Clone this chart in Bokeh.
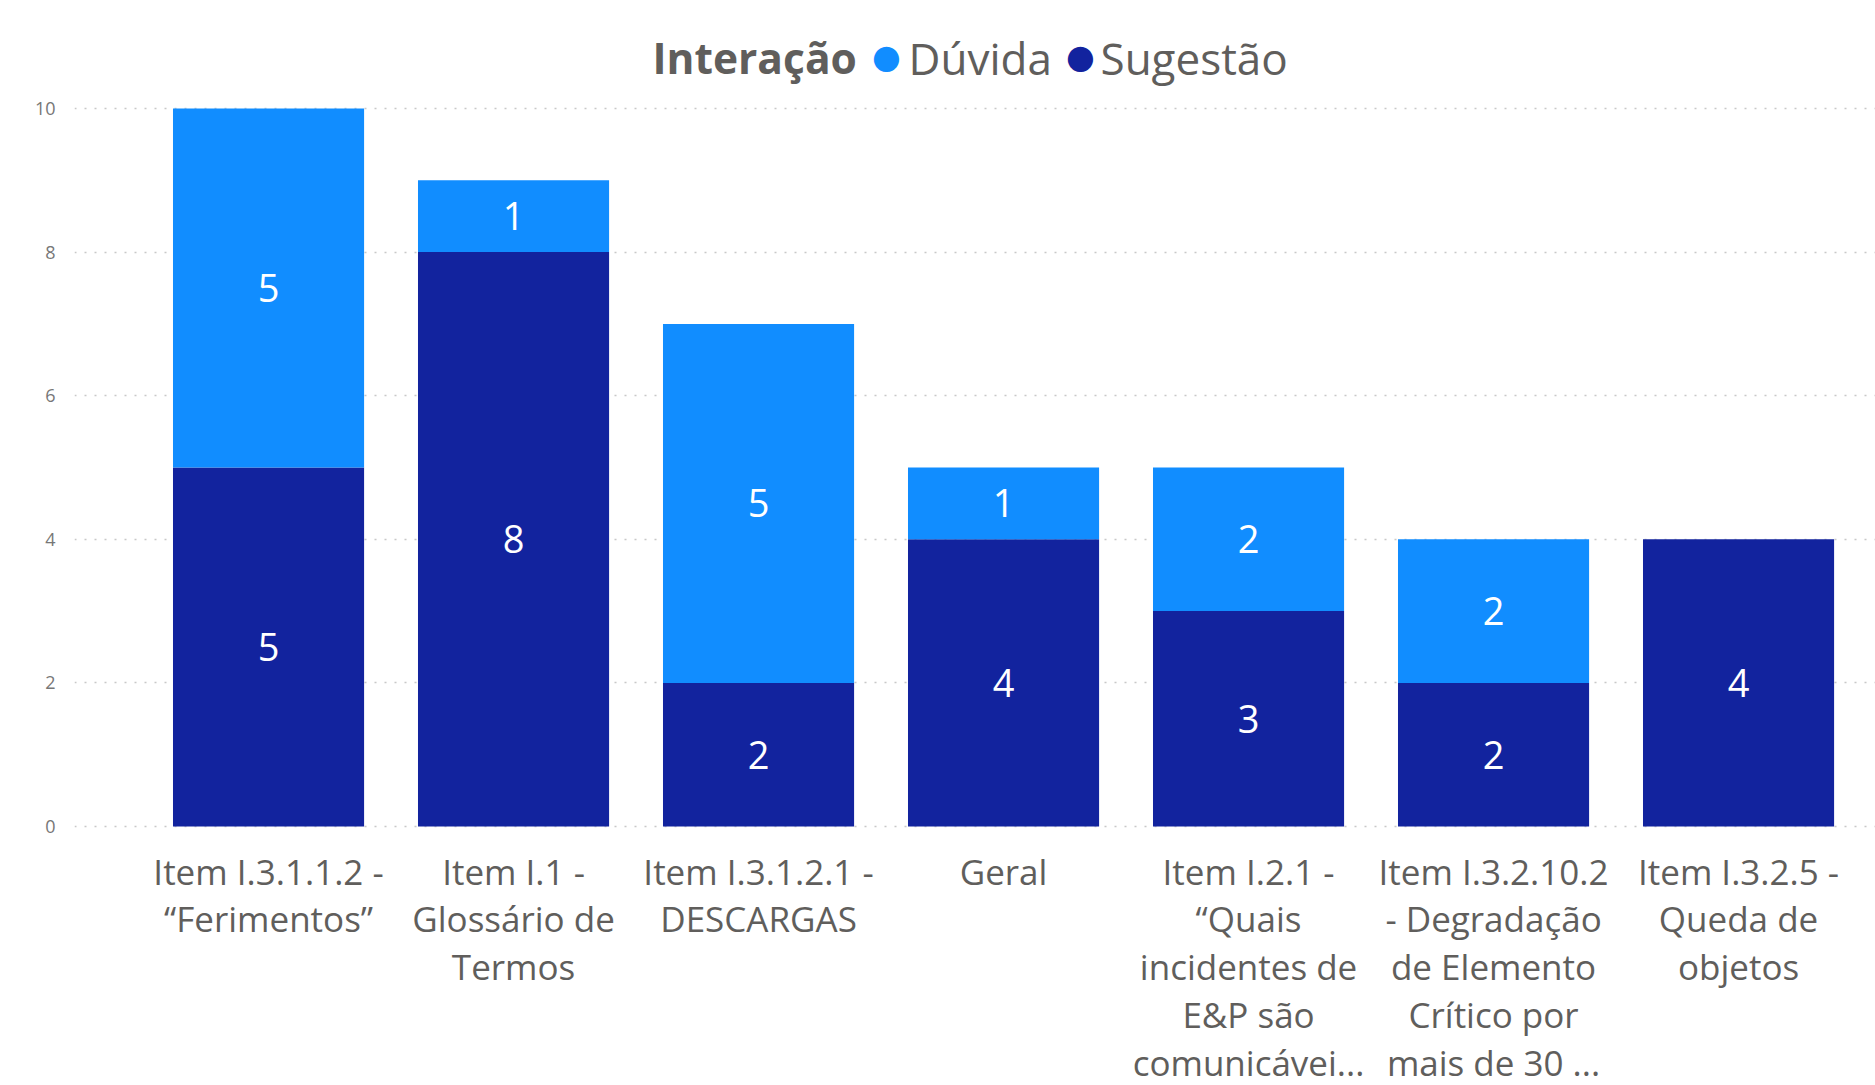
from bokeh.plotting import figure
from bokeh.models import ColumnDataSource, Range1d, FixedTicker, Label
from bokeh.core.properties import value
from bokeh.embed import file_html
from bokeh.resources import INLINE

categories = [
    "Item I.3.1.1.2 -\n“Ferimentos”",
    "Item I.1 -\nGlossário de\nTermos",
    "Item I.3.1.2.1 -\nDESCARGAS",
    "Geral",
    "Item I.2.1 -\n“Quais\nincidentes de\nE&P são\ncomunicávei...",
    "Item I.3.2.10.2\n- Degradação\nde Elemento\nCrítico por\nmais de 30 ...",
    "Item I.3.2.5 -\nQueda de\nobjetos",
]
sugestao = [5, 8, 2, 4, 3, 2, 4]
duvida = [5, 1, 5, 1, 2, 2, 0]
series = ["Sugestão", "Dúvida"]
colors = ["#12239E", "#118DFF"]
y_ticks = [0, 2, 4, 6, 8, 10]
legend_title = "Interação"

FONT = "Open Sans"
GREY = "#605E5C"

xs = list(range(len(categories)))
source = ColumnDataSource(dict(x=xs, Sugestão=sugestao, Dúvida=duvida))

W, H = 1875, 1085
PX_PER_UNIT = 71.8          # vertical scale: 10 units -> 718 px
ZERO_Y = 826                # pixel row of the value 0
p = figure(width=W, height=H, output_backend="svg", toolbar_location=None,
           x_range=Range1d(-0.792, 6.559),
           y_range=Range1d(-(H - ZERO_Y) / PX_PER_UNIT, ZERO_Y / PX_PER_UNIT),
           min_border_left=74, min_border_right=0, min_border_top=0,
           min_border_bottom=0, background_fill_color="white",
           border_fill_color="white", outline_line_color=None)

p.vbar_stack(series, x="x", width=0.78, source=source, color=colors, line_color=None)

# value labels inside segments
lab_x, lab_y, lab_t = [], [], []
for i in xs:
    if sugestao[i] > 0:
        lab_x.append(i); lab_y.append(sugestao[i] / 2); lab_t.append(str(sugestao[i]))
    if duvida[i] > 0:
        lab_x.append(i); lab_y.append(sugestao[i] + duvida[i] / 2); lab_t.append(str(duvida[i]))
p.text(x=lab_x, y=lab_y, text=lab_t, text_color="white", text_font=value(FONT),
       text_font_size="38px", text_align="center", text_baseline="middle")

# category labels under the bars
p.text(x=xs, y=[-21 / PX_PER_UNIT] * len(xs), text=categories, text_color=GREY,
       text_font=value(FONT), text_font_size="35px", text_align="center",
       text_baseline="top", text_line_height=1.02)

# axes
p.xaxis.visible = False
p.yaxis.ticker = FixedTicker(ticks=y_ticks)
p.yaxis.axis_line_color = None
p.yaxis.major_tick_line_color = None
p.yaxis.minor_tick_line_color = None
p.yaxis.major_label_text_font = FONT
p.yaxis.major_label_text_font_size = "18px"
p.yaxis.major_label_text_color = "#777777"
p.yaxis.major_label_standoff = 13

p.xgrid.grid_line_color = None
p.ygrid.grid_line_color = "#C8C8C8"
p.ygrid.grid_line_dash = "2 8"
p.ygrid.grid_line_width = 1.5

# legend row: title, then a coloured dot and a label per series
LEG_Y = H - 57
p.add_layout(Label(x=578, y=LEG_Y, x_units="screen", y_units="screen", text=legend_title,
                   text_font=FONT, text_font_size="42.5px", text_font_style="bold",
                   text_color=GREY, text_baseline="middle"))
legend_entries = [(series[1], colors[1], 812, 834), (series[0], colors[0], 1006, 1026)]
for name, col, dot_x, txt_x in legend_entries:
    p.add_layout(Label(x=dot_x, y=LEG_Y + 1, x_units="screen", y_units="screen", text="●",
                       text_font="DejaVu Sans", text_font_size="33px", text_color=col,
                       text_align="center", text_baseline="middle"))
    p.add_layout(Label(x=txt_x, y=LEG_Y, x_units="screen", y_units="screen", text=name,
                       text_font=FONT, text_font_size="44px", text_color=GREY,
                       text_baseline="middle"))

open("out.html", "w").write(file_html(p, INLINE))
